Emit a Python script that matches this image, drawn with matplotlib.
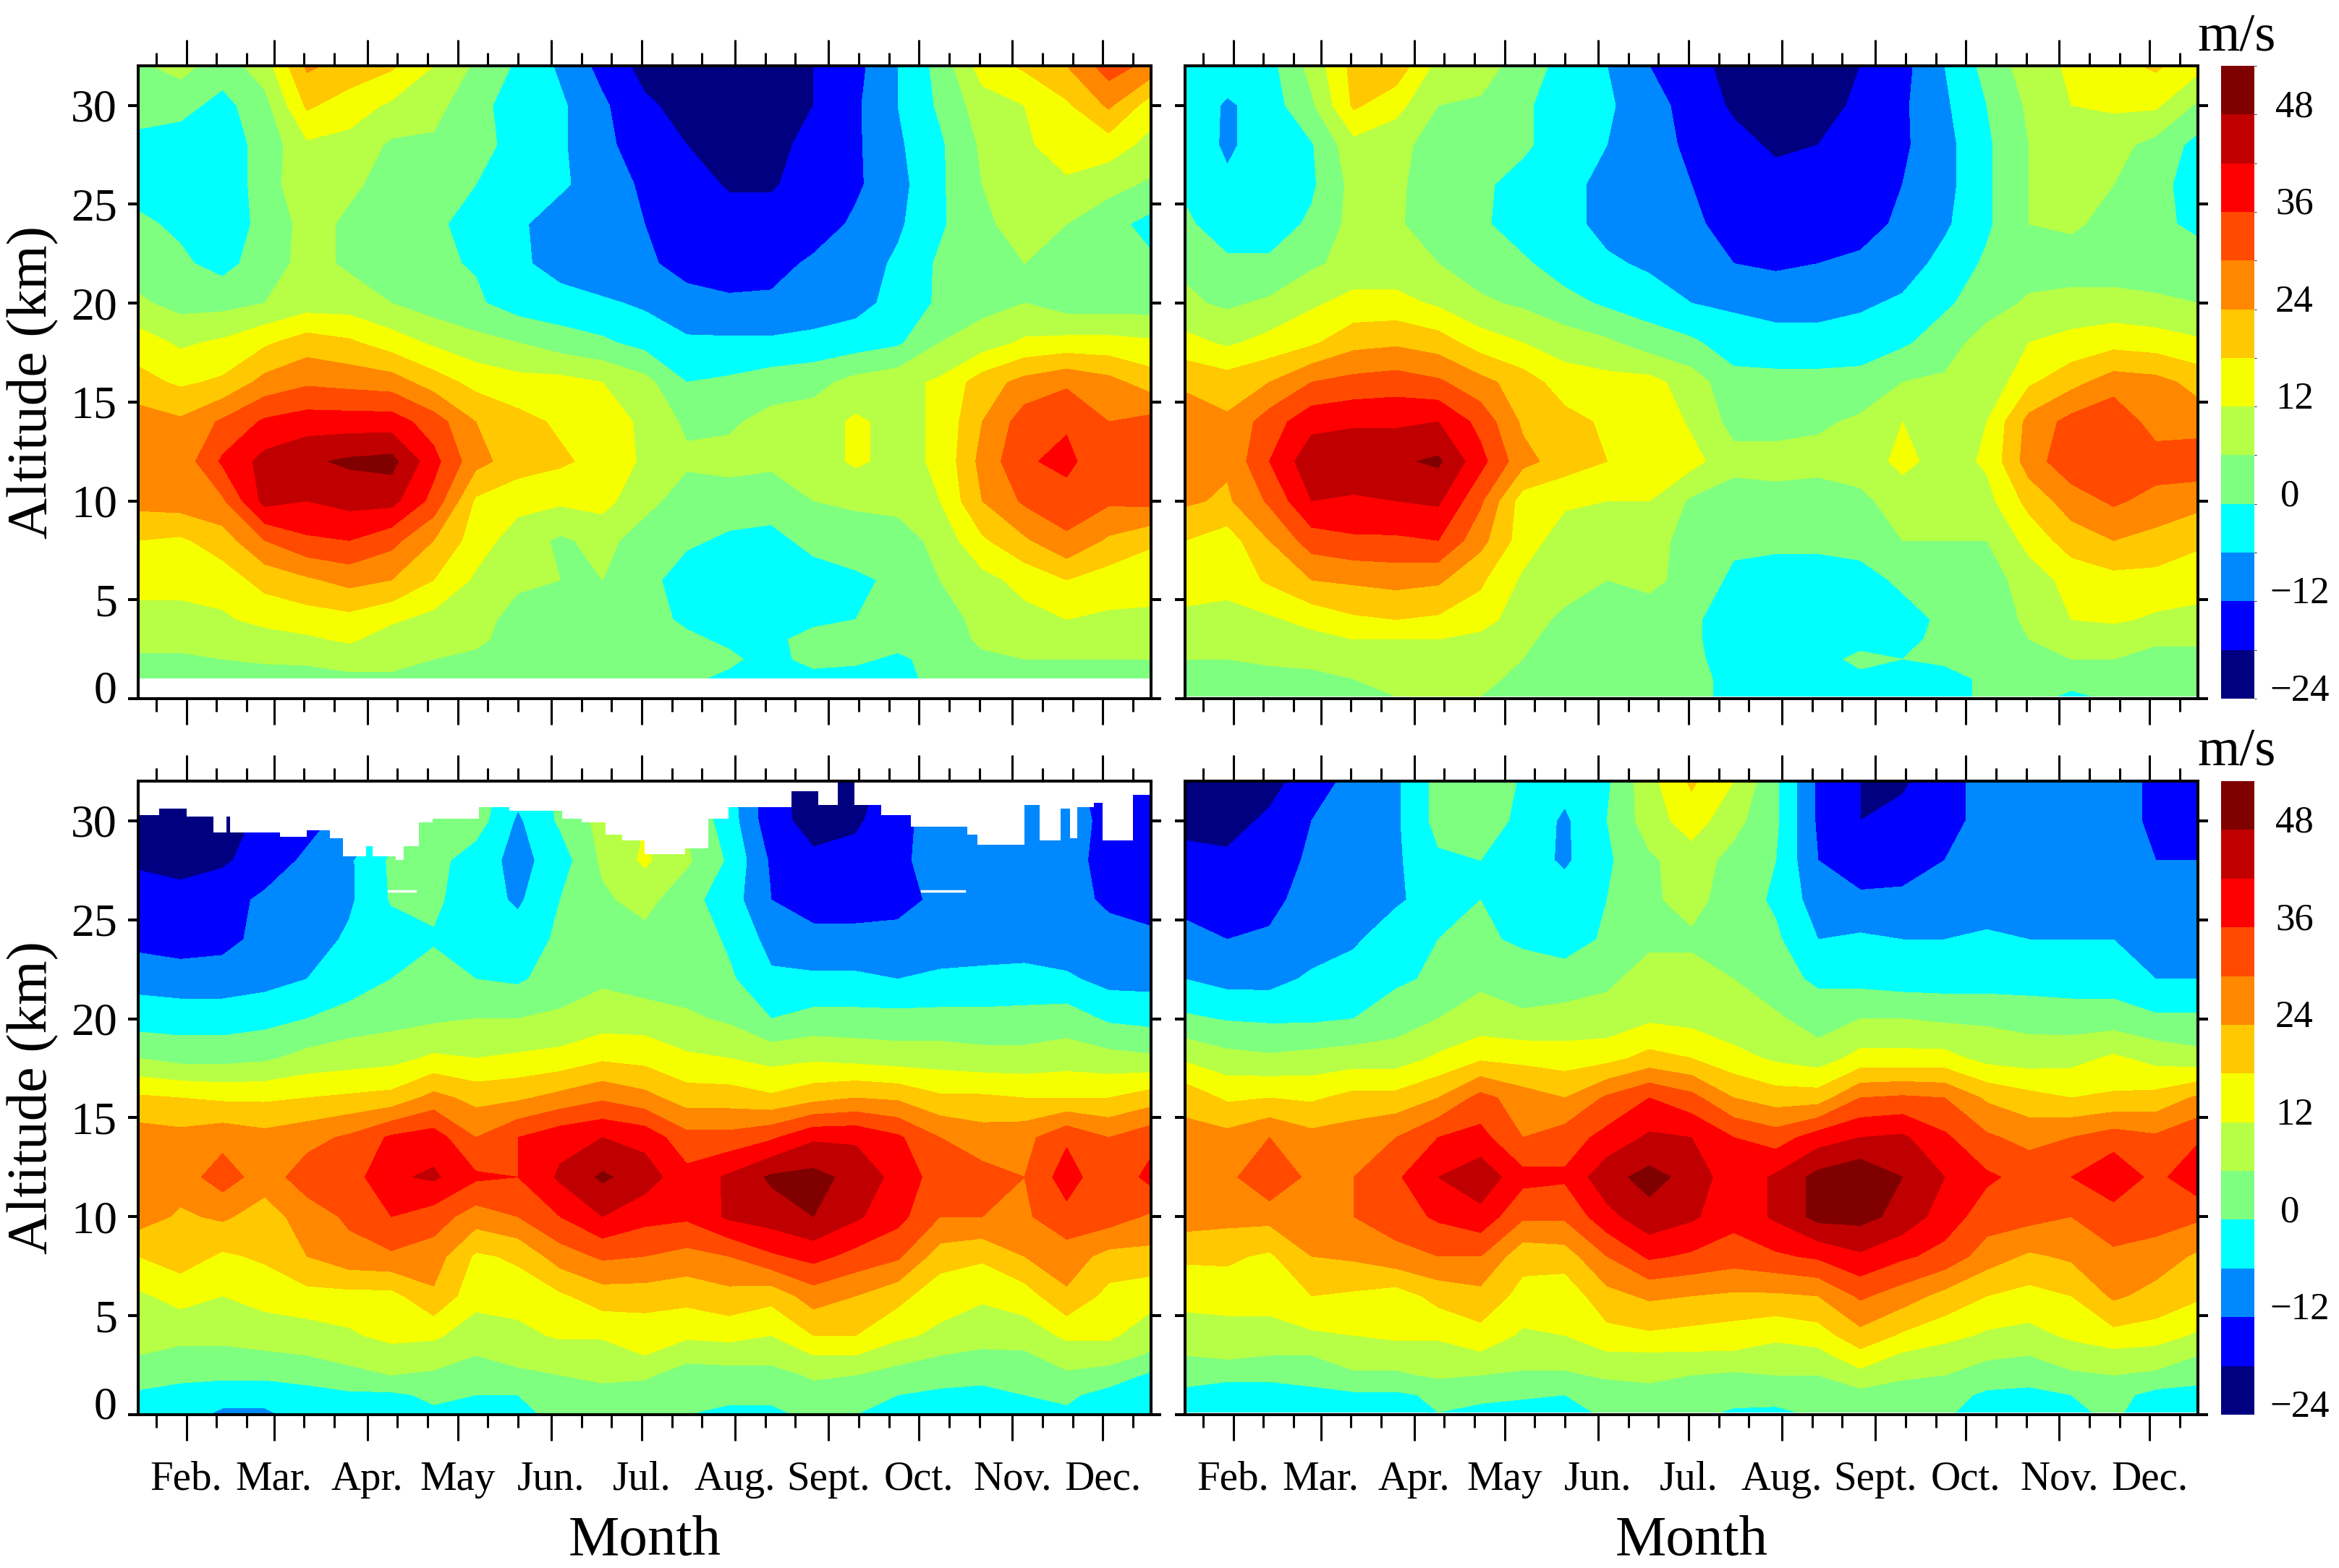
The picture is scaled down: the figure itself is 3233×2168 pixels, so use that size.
import numpy as np
import matplotlib
matplotlib.use('Agg')
import matplotlib.pyplot as plt
from matplotlib.colors import ListedColormap, BoundaryNorm
from matplotlib.transforms import ScaledTranslation

plt.rcParams['font.family'] = ['Liberation Serif', 'DejaVu Serif']

W, H = 3233, 2168
DPI = 100

# day of year (leap year) of the grid columns
days = list(range(16, 353, 14))
# altitude of the grid rows, top row first
alts = [32, 30, 28, 26, 24, 22, 20, 18, 16, 14, 12, 10, 8, 6, 4, 3, 2, 1, 0]

levels = list(range(-24, 55, 6))
colors = ['#000080', '#0000FF', '#0088FF', '#00FFFF', '#7EFF80', '#B6FF46', '#F5FF00',
          '#FFC800', '#FF8800', '#FF4A00', '#FF0000', '#C00000', '#800000']
cbar_labels = [48, 36, 24, 12, 0, -12, -24]

month_days = [32, 61, 92, 122, 153, 183, 214, 245, 275, 306, 336]
month_names = ['Feb.', 'Mar.', 'Apr.', 'May', 'Jun.', 'Jul.', 'Aug.', 'Sept.', 'Oct.', 'Nov.', 'Dec.']
alt_ticks = [0, 5, 10, 15, 20, 25, 30]

# upper left
u1 = [
    [5, 8, 3, 9, 25, 22, 19, 12, 5, -1, -7, -14, -20, -21, -22, -22, -18, -14, -6, 2, 15, 19, 24, 33, 28],
    [3, 2, -2, 4, 19, 15, 11, 8, 2, -3, -5, -11, -17, -20, -21, -21, -18, -13, -6, 1, 9, 12, 17, 25, 15],
    [-2, -3, -3, 2, 11, 10, 5, 5, 3, -3, -5, -11, -14, -18, -20, -21, -15, -13, -7, -1, 7, 11, 15, 15, 10],
    [-2, -4, -3, 2, 12, 7, 4, 3, 0, -3, -5, -9, -13, -16, -18.5, -18.5, -16, -13, -8, -1, 6, 8, 11, 8, 5],
    [1, -1, -4, 2, 8, 5, 2, 1, -2, -5, -9, -11, -12, -15, -16, -16, -15, -11, -7, -1, 5, 8, 6, 2, -2],
    [3, 1, -2, 3, 8, 5, 2, 1, -0.5, -5, -8, -11, -11, -14, -15, -14, -11, -9, -5, 1, 5, 6, 4, 3, 1],
    [7, 4, 4, 6, 9, 9, 6, 3, 1, -3, -4, -5, -7, -10, -11, -11, -10, -8, -4, 1, 4, 6, 3, 3, 3],
    [15, 11, 13, 17, 21, 19, 15, 11, 8, 6, 3, 1, -2, -5, -5, -5, -4, -3, -1, 6, 9, 13, 14, 14, 13],
    [20, 17, 19, 26, 29, 28, 27, 21, 16, 14, 14, 12, 8, 0, 1, 3, 4, 8, 10, 13, 21, 26, 29, 26, 21],
    [27, 25, 31, 37, 39, 39, 39, 33, 24, 20, 17, 17, 10, 5, 5, 8, 9, 13, 10, 13, 24, 33, 35, 30, 32],
    [28, 26, 37, 44, 47, 49, 50, 38, 26, 21, 19, 16, 11, 7, 8, 7, 9, 13, 10, 13, 26, 35, 38, 30, 34],
    [26, 27, 29, 44, 42, 44, 44, 34, 17, 14, 13, 14, 8, 3, 3, 3, 6, 7, 8, 12, 24, 31, 33, 31, 32],
    [18, 17, 21, 30, 35, 36, 32, 24, 15, 9, 5, 8, 3, 1, -1, -2, 2, 3, 3, 8, 17, 23, 29, 23, 19],
    [14, 14, 15, 20, 23, 26, 24, 18, 11, 7, 6, 6, 2, -3, -4, -4, -3, -1, 1, 6, 10, 14, 18, 15, 14],
    [10, 10, 11, 14, 15, 16, 13, 10, 8, 4, 3, 3, 2, -1, -3, -3, -2, 0, 1, 3, 8, 10, 12, 11, 11],
    [8, 8, 8, 9, 11, 13, 9, 8, 7, 4, 3, 3, 3, 1, -1, -2, 3, 2, 2, 3, 7, 8, 8, 7, 7],
    [5, 5, 6, 7, 7, 8, 8, 6, 5, 3, 3, 2, 2, 1, 1, -2, 2, 1, -1, 2, 5, 6, 6, 6, 6],
    [3, 3, 3, 3, 4, 5, 5, 4, 3, 2, 2, 1, 1, 1, -1, -3, -2, -2, -1, 1, 3, 3, 3, 3, 3],
    [np.nan] * 25,
]

# upper right
u2 = [
    [-1, -2, -2, 8, 20, 22, 10, 9, 3, -2, -6, -12, -16, -20, -22, -21, -18, -14, -6, 2, 9, 13, 16, 19, 14],
    [-1, -7, -3, 5, 19, 14, 6, 5, 1, -3, -5, -10, -14, -19, -22, -20, -17, -13, -7, 0, 7, 12, 13, 13, 5],
    [-2, -7, -3, -0.5, 10, 8, 3, 2, 1, -3, -6, -10, -13, -16, -19, -18, -17, -13, -8, -1, 6, 9, 8, 4, -2],
    [-1, -5, -3, -1, 8, 7, 3, 1, -2, -4, -8, -11, -12, -14, -16, -16, -15, -12, -8, -1, 6, 8, 6, 2, -3],
    [1, -3, -3, 1, 8, 7, 2, 1, -3, -4, -8, -10, -11, -14, -15, -15, -14, -11, -7, -1, 6, 7, 4, 1, -1],
    [5, 1, 1, 5, 8, 8, 6, 3, 1, -3, -5, -7, -10, -12, -13, -12, -11, -9, -4, 1, 3, 3, 3, 3, 2],
    [7, 5, 7, 11, 14, 14, 11, 7, 5, 2, -1, -3, -6, -7, -8, -8, -7, -5, -1, 3, 7, 8, 8, 7, 6],
    [14, 11, 14, 17, 22, 23, 21, 15, 12, 9, 7, 3, 1, -3, -4, -4, -3, -1, 3, 9, 12, 14, 16, 15, 13],
    [23, 21, 24, 30, 32, 33, 31, 26, 21, 15, 14, 14, 9, 2, 2, 2, 2, 6, 7, 7, 17, 22, 27, 26, 22],
    [27, 25, 33, 40, 41, 41, 42, 34, 23, 20, 17, 17, 11, 4, 4, 5, 7, 12, 8, 12, 26, 32, 35, 27, 27],
    [28, 25, 36, 46, 47, 47, 49, 38, 26, 21, 18, 16, 14, 8, 8, 8, 8, 14, 9, 13, 27, 34, 36, 33, 34],
    [25, 23, 31, 42, 41, 42, 43, 31, 15, 13, 12, 12, 5, 3, 4, 3, 5, 8, 8, 10, 20, 27, 31, 28, 26],
    [18, 15, 24, 33, 35, 35, 36, 26, 15, 9, 8, 8, 4, 1, 1, 1, 2, 6, 6, 6, 14, 21, 24, 22, 19],
    [14, 14, 19, 24, 25, 26, 25, 19, 11, 8, 6, 8, 3, -1, -2, -2, -2, 1, 2, 3, 9, 14, 16, 16, 15],
    [11, 10, 11, 14, 17, 18, 17, 15, 8, 5, 3, 2, 1, -3, -4, -4, -4, -2, 1, 3, 7, 12, 13, 11, 10],
    [8, 9, 8, 10, 12, 12, 12, 10, 7, 4, 3, 2, 1, -3, -4, -4, -3, -1, 1, 2, 6, 7, 8, 7, 6.5],
    [6, 6, 7, 7, 9, 10, 9, 8, 6, 5, 3, 2, 1, -2, -3, -3, 2, 0, 1, 2, 5, 6, 6, 4, 5],
    [3, 4, 4, 5, 6, 7, 8, 7, 5, 3, 2, 2, 1, -1, -3, -3, -2, -2, -2, 1, 2, 2, 3, 2, 2],
    [2, 3, 3, 4, 5, 6, 7, 6, 3, 2, 2, 1, 1, -1, -3, -3, -3, -3, -2, 1, 2, -1, 1, 1, 1],
]

# lower left
l1 = [
    [-22, -22, -20, -18, -15, -11, -6, 3, 3, -3, 1, 9, 14, 6, -4, -16, -21, -21, -15, -10, -10, -10, -10, -15, -17],
    [-21, -21, -20, -17, -14, -10, -5, 3, 3, -7, 1, 8, 12, 5, -3, -16, -20, -19, -14, -9, -9, -9, -9, -14, -16],
    [-19, -20, -19, -15, -11, -7, 1, 2, -3, -8, -3, 7, 13, 7, -1, -13, -17, -16, -13, -10, -9, -9, -10, -14, -15],
    [-15, -16, -14, -11, -9, -7, 0.5, 1, -3, -7, 0, 5, 8, 2, -3, -12, -15, -15, -15, -10, -9, -8, -10, -13, -14],
    [-14, -15, -14, -10, -9, -5, -3, -0.5, -2, -3, 1, 3, 4, 4, -1, -8, -10, -10, -9, -9, -8, -9, -10, -10, -11],
    [-8, -9, -9, -8, -6, -4, 0, 2, 0, -1, 3, 5, 3, 3, 1, -5, -5, -5, -6, -5, -5, -4, -5, -8, -8],
    [-3, -3, -3, -2, 0, 3, 4, 5, 6, 6, 7, 9, 9, 7, 5, 0, 2, 2, 2, 2, 2, 2, 3, -1, -2],
    [6, 4, 4, 5, 8, 9, 10, 13, 12, 13, 14, 17, 16, 13, 12, 10, 11, 10, 9, 9, 8, 8, 9, 8, 7],
    [19, 18, 17, 17, 18, 19, 20, 26, 22, 23, 26, 29, 26, 21, 21, 19, 22, 24, 23, 19, 19, 18, 18, 18, 21],
    [27, 26, 28, 26, 28, 31, 37, 39, 30, 36, 40, 42, 40, 32, 32, 35, 41, 41, 37, 30, 27, 28, 35, 30, 34],
    [30, 27, 33, 27, 33, 33, 41, 43, 37, 36, 43, 49, 45, 38, 43, 49, 50, 46, 40, 33, 32, 30, 39, 31, 38],
    [27, 23, 25, 21, 27, 31, 36, 33, 27, 30, 36, 42, 38, 37, 43, 45, 48, 43, 38, 30, 30, 29, 34, 33, 29],
    [18, 21, 17, 19, 24, 28, 29, 27, 17, 19, 27, 31, 30, 28, 30, 35, 38, 34, 31, 21, 19, 24, 27, 22, 22],
    [11, 14, 12, 14, 16, 16, 16, 23, 14, 15, 17, 21, 21, 20, 22, 20, 27, 24, 20, 14, 13, 15, 23, 16, 14],
    [8, 8, 8, 9, 9, 11, 14, 13, 9, 10, 13, 13, 14, 13, 14, 12, 18, 18, 13, 11, 8, 9, 13, 13, 9],
    [6, 4, 4, 5, 6, 8, 9, 9, 6, 9, 8, 8, 12, 8, 8, 9, 12, 12, 9, 6, 5, 5, 9, 9, 5],
    [3, 2, 1, 1, 2, 4, 6, 5, 4, 4, 6, 8, 7, 3, 4, 3, 7, 6, 3, 2, 2, 3, 5, 3, -1],
    [-1, -3, -3, -3, -2, -1, -1, 1, 0, 0, 2, 3, 3, 1, 1, 1, 3, 2, 0, -1, -2, 0, 1, -2, -4],
    [-2, -3, -7.5, -7.5, -3, -2, -1, -1, -2, -1, 1, 1, 1, 0, -1, -1, 1, 0, -2, -2, -1, 0, -1, -3, -4],
]

# lower right
l2 = [
    [-22, -22, -20, -15, -10, -7, 2, 6, -1, -4, -1, 10, 19, 12, 1, -13, -18, -19, -14, -10, -8, -8, -10, -13, -14],
    [-19, -20, -17, -12, -9, -7, 2, 4, -2, -7, 0, 9, 15, 8, 1, -13, -18, -16, -14, -10, -8, -8, -10, -13, -14],
    [-17, -17, -15, -11, -9, -7, -1, 0, -3, -7, -1, 5, 9, 4, 0, -12, -15, -14, -12, -10, -9, -9, -10, -12, -12],
    [-13, -15, -14, -9, -8, -7, -3, 0, -1, -3, 0, 5, 8, 3, -1, -9, -11, -11, -10, -9, -8, -8, -9, -11, -11],
    [-11, -12, -11, -9, -7, -2, 0, 1, -1, -3, 1, 5, 5, 3, 1, -6, -5, -6, -6, -5, -6, -6, -6, -8, -9],
    [-6, -8, -8, -5, -3, -1, 1, 5, 3, 3, 5, 8, 8, 6, 2, -1, -2, -3, -3, -3, -3, -3, -3, -6, -6],
    [1, -0.5, -1, -1, 0, 3, 6, 8, 7, 8, 8, 11, 10, 8, 7, 3, 6, 6, 5, 5, 4, 3, 3, 1, 1],
    [11, 8, 7, 8, 9, 9, 13, 17, 16, 15, 16, 20, 18, 14, 11, 9, 14, 14, 14, 10, 9, 10, 13, 10, 8],
    [22, 17, 18, 17, 20, 20, 24, 32, 27, 24, 31, 36, 32, 24, 21, 21, 30, 31, 30, 23, 20, 18, 19, 20, 25],
    [26, 26, 30, 26, 27, 30, 36, 38, 30, 33, 38, 43, 42, 36, 33, 39, 42, 43, 37, 31, 28, 30, 33, 31, 35],
    [29, 28, 36, 28, 30, 35, 42, 46, 38, 37, 46, 50, 46, 38, 43, 50, 53, 48, 42, 37, 34, 36, 41, 34, 41],
    [27, 26, 26, 27, 30, 33, 37, 40, 31, 31, 40, 46, 43, 38, 43, 50, 50, 46, 39, 33, 32, 30, 33, 33, 31],
    [19, 19, 17, 24, 25, 28, 30, 30, 20, 21, 30, 37, 35, 33, 35, 37, 41, 37, 34, 27, 23, 25, 29, 27, 23],
    [14, 15, 14, 18, 17, 15, 20, 22, 16, 14, 22, 25, 24, 23, 23, 24, 31, 27, 22, 18, 16, 18, 25, 22, 19],
    [9, 9, 10, 11, 12, 13, 13, 16, 11, 12, 16, 17, 16, 15, 13, 15, 22, 17, 14, 11, 10, 13, 16, 15, 11],
    [6, 7, 6, 6, 9, 9, 9, 11, 9, 9, 11, 11, 11, 11, 10, 10, 16, 11, 9, 7, 6, 9, 10, 9, 6],
    [3, 2, 2, 4, 5, 5, 7, 6, 5, 5, 7, 8, 6, 5, 6, 6, 10, 7, 6, 3, 3, 5, 6, 5, 3],
    [-2, -4, -4, -3, -1, -1, 1, 2, 1, 0, 2, 3, 3, 3, 2, 3, 4, 3, 2, -1, -2, 0, 2, -2, -3],
    [-3, -4, -6, -3, -3, -2, 0, -2, -3, -2, 1, 2, 2, -1, -1, 1, 2, 1, 1, -3, -3, -1, 1, -3, -4],
]

# top edge of the valid data in the lower left panel
top_days = [16, 23, 32, 41, 45.3, 46.4, 63, 71.8, 79.5, 84, 91.6, 93.8, 101.5, 104, 109, 113.7, 129, 139, 151, 156.7,
            163, 171, 176.5, 184, 197.4, 205, 211.8, 222.8, 232.7, 241.5, 248, 253.7, 262.5, 272.4, 291, 294.4,
            310, 315, 322, 325, 327.5, 333, 336, 346, 352]
top_alts = [30.3, 30.6, 30.2, 29.4, 30.2, 29.4, 29.2, 29.5, 29.1, 28.2, 28.7, 28.2, 28.0, 28.7, 29.9, 30.1, 30.7,
            30.5, 30.5, 30.1, 29.9, 29.3, 29.0, 28.3, 28.6, 30.1, 30.7, 30.7, 31.5, 30.8, 32.0, 30.8, 30.3, 29.7,
            29.3, 28.8, 30.8, 29.0, 30.6, 29.1, 30.7, 30.9, 29.0, 31.3, 31.3]
gap_days = [[99, 108], [276, 290]]
gap_alt = 26.45

cmap = ListedColormap(colors)
norm = BoundaryNorm(levels, cmap.N)


def box(left, top, right, bottom):
    return [left / W, 1 - bottom / H, (right - left) / W, (bottom - top) / H]


fig = plt.figure(figsize=(W / DPI, H / DPI), dpi=DPI)

panels = [
    (u1, box(191, 91, 1591, 966), 1.05, True, False),
    (u2, box(1638, 91, 3038, 966), 0.12, False, False),
    (l1, box(191, 1080, 1591, 1956), 0.0, True, True),
    (l2, box(1638, 1080, 3038, 1956), 0.12, False, True),
]

minor_days = [22] + [d + k for d in month_days for k in (10, 20) if d + k < 352]

for z, pos, floor, has_y, has_x in panels:
    ax = fig.add_axes(pos)
    rows = np.array(alts, dtype=float)
    zz = np.array(z, dtype=float)
    if floor > 0 and np.isnan(zz[-1]).all():
        # no data below the lowest level
        rows[-2] = floor
    elif floor > 0:
        rows[-1] = floor
    cs = ax.contourf(days, rows, np.ma.masked_invalid(zz), levels=levels, cmap=cmap, norm=norm)

    if z is l1:
        ax.fill_between(top_days, top_alts, 33, step='post', color='white', lw=0, zorder=3)
        for g in gap_days:
            ax.plot(g, [gap_alt, gap_alt], color='white', lw=2.5, zorder=3)

    ax.set_xlim(16, 352)
    ax.set_ylim(0, 32)
    ax.set_xticks(month_days)
    ax.set_xticks(minor_days, minor=True)
    ax.set_yticks(alt_ticks)
    ax.tick_params(axis='x', which='major', top=True, bottom=True, length=26, width=2.2, direction='out', pad=20,
                   labelsize=41, labelbottom=has_x)
    ax.tick_params(axis='x', which='minor', top=True, bottom=True, length=13, width=2.2, direction='out')
    ax.tick_params(axis='y', which='major', left=True, right=True, length=10, width=2.9, direction='out', pad=11,
                   labelsize=46, labelleft=has_y)
    for s in ax.spines.values():
        s.set_linewidth(2.9)
        s.set_zorder(5)
    if has_x:
        ax.set_xticklabels(month_names)
        ax.set_xlabel('Month', fontsize=57, labelpad=17)
    if has_y:
        ax.set_ylabel('Altitude (km)', fontsize=57, labelpad=12)
        lab = ax.get_yticklabels()[0]
        lab.set_transform(lab.get_transform() + ScaledTranslation(0, 16 / DPI, fig.dpi_scale_trans))

    if not has_y:
        # colour bar beside the right hand panels
        y0 = H * (1 - pos[1] - pos[3])
        cax = fig.add_axes(box(3070, y0, 3116, y0 + pos[3] * H))
        cb = fig.colorbar(cs, cax=cax, ticks=[])
        cb.outline.set_visible(False)
        cb.ax.minorticks_off()
        cb.ax.tick_params(length=0)
        for v in cbar_labels:
            if v > 0:
                px = 3145
            elif v == 0:
                px = 3152
            else:
                px = 3137
            txt = str(v).replace('-', '\u2212')
            py = y0 + (54 - v) / 78 * pos[3] * H - 10
            fig.text(px / W, 1 - py / H, txt, fontsize=38, ha='left', va='center')
        fig.text(3092 / W, 1 - (y0 - 22) / H, 'm/s', fontsize=54, ha='center', va='baseline')

fig.savefig('out.png', dpi=DPI)
